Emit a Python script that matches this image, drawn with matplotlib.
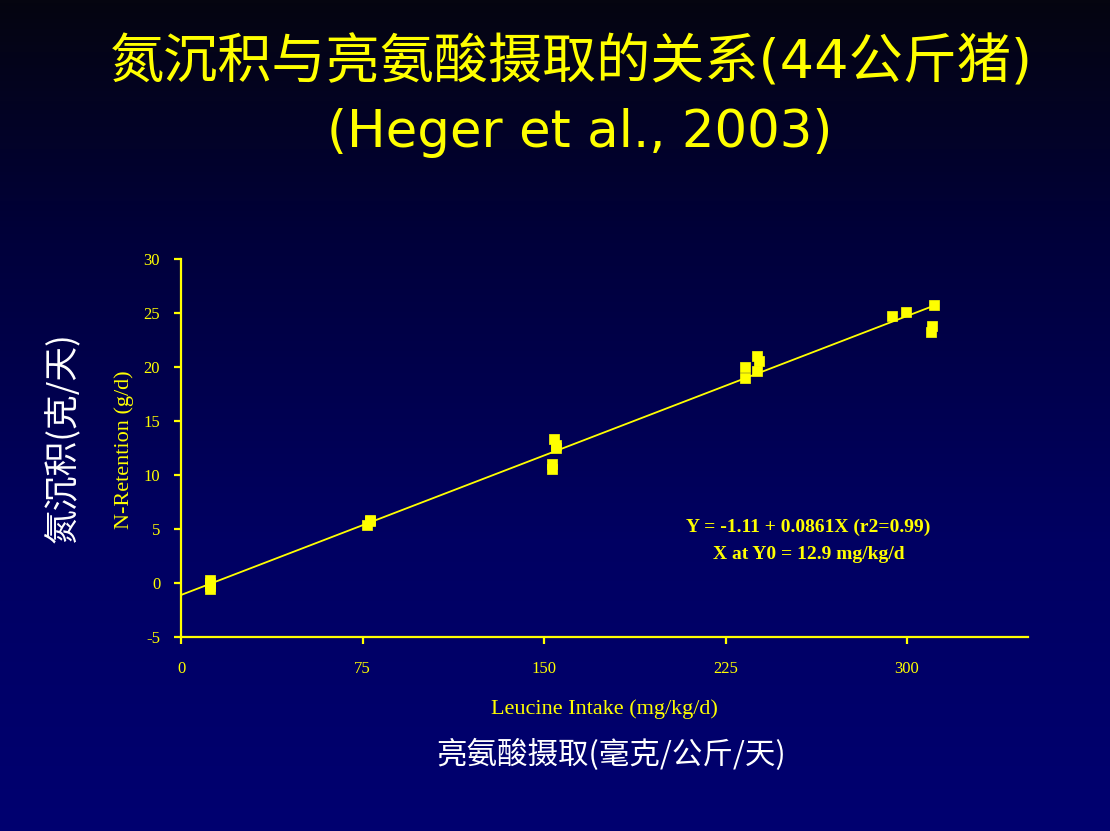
import numpy as np
import matplotlib
matplotlib.use("Agg")
import matplotlib.pyplot as plt
from matplotlib.colors import LinearSegmentedColormap

plt.rcParams["axes.unicode_minus"] = False

# Leucine intake (mg/kg/d) and N-retention (g/d) observations
leucine_intake = [12, 12, 12, 12, 77, 78, 78,
                  154, 155, 155, 153.5, 153.5,
                  233, 233, 238, 239, 238,
                  294, 299.5, 311, 310.5, 310]
n_retention = [0.3, 0.0, -0.3, -0.6, 5.4, 5.7, 5.8,
               13.3, 12.8, 12.5, 11.0, 10.6,
               20.0, 19.0, 21.0, 20.6, 19.6,
               24.7, 25.1, 25.7, 23.8, 23.2]

# Regression: Y = -1.11 + 0.0861 X
intercept = -1.11
slope = 0.0861
fit_x_end = 311

x_ticks = [0, 75, 150, 225, 300]
y_ticks = [-5, 0, 5, 10, 15, 20, 25, 30]

title_line1 = "氮沉积与亮氨酸摄取的关系(44公斤猪)"
title_line2 = "(Heger et al., 2003)"
equation_text = "Y = -1.11 + 0.0861X (r2=0.99)\nX at Y0 = 12.9 mg/kg/d"

YELLOW = "#ffff00"
SERIF = ["Liberation Serif", "DejaVu Serif"]
CJK = ["Noto Sans CJK SC", "DejaVu Sans"]
TITLE_FONT = ["DejaVu Sans", "Noto Sans CJK SC"]

W, H = 1110, 831
fig = plt.figure(figsize=(W / 100, H / 100), dpi=100)

# Vertical background gradient: near black at top to navy at bottom
bg = fig.add_axes([0, 0, 1, 1])
bg.set_axis_off()
cmap = LinearSegmentedColormap.from_list(
    "bg", [(0.0, "#000070"), (0.35, "#000062"), (0.7, "#00003c"), (1.0, "#050510")])
grad = np.linspace(0, 1, 256).reshape(-1, 1)
bg.imshow(grad, aspect="auto", cmap=cmap, extent=[0, 1, 0, 1], origin="lower")
bg.set_xlim(0, 1)
bg.set_ylim(0, 1)

ax = fig.add_axes([181 / W, 1 - 637 / H, (1028 - 181) / W, (637 - 259) / H])
ax.set_facecolor("none")
ax.set_xlim(0, 350)
ax.set_ylim(-5, 30)

for side in ("top", "right"):
    ax.spines[side].set_visible(False)
for side in ("left", "bottom"):
    ax.spines[side].set_color(YELLOW)
    ax.spines[side].set_linewidth(1.6)

ax.set_xticks(x_ticks)
ax.set_yticks(y_ticks)
ax.tick_params(colors=YELLOW, length=5, width=1.6, direction="out")
ax.tick_params(axis="x", pad=12)
ax.tick_params(axis="y", pad=10)
for lbl in ax.get_xticklabels() + ax.get_yticklabels():
    lbl.set_fontfamily(SERIF)
    lbl.set_fontsize(12)
    lbl.set_color(YELLOW)

fx = np.array([0, fit_x_end])
ax.plot(fx, intercept + slope * fx, color=YELLOW, lw=1.3, zorder=2)
ax.scatter(leucine_intake, n_retention, marker="s", s=55, color=YELLOW,
           edgecolors=YELLOW, linewidths=0.5, zorder=3, clip_on=False)

ax.text(0.741, 0.254, equation_text, transform=ax.transAxes, ha="center", va="center",
        fontfamily=SERIF, fontweight="bold", fontsize=14, color=YELLOW, linespacing=1.75)

# English axis titles
fig.text(604 / W, 1 - 709 / H, "Leucine Intake (mg/kg/d)", ha="center", va="center",
         fontfamily=SERIF, fontsize=16, color=YELLOW)
fig.text(124 / W, 1 - 450 / H, "N-Retention (g/d)", ha="center", va="center", rotation=90,
         fontfamily=SERIF, fontsize=16, color=YELLOW)

# Chinese axis captions
fig.text(611 / W, 1 - 755 / H, "亮氨酸摄取(毫克/公斤/天)", ha="center", va="center",
         fontfamily=CJK, fontsize=22, color="white")
fig.text(63 / W, 1 - 438 / H, "氮沉积(克/天)", ha="center", va="center", rotation=90,
         fontfamily=CJK, fontsize=25, color="white")

# Title
fig.text(571 / W, 1 - 63 / H, title_line1, ha="center", va="center",
         fontfamily=TITLE_FONT, fontsize=39, color=YELLOW)
fig.text(580 / W, 1 - 133 / H, title_line2, ha="center", va="center",
         fontfamily=TITLE_FONT, fontsize=37, color=YELLOW)

fig.savefig("out.png", dpi=100)
